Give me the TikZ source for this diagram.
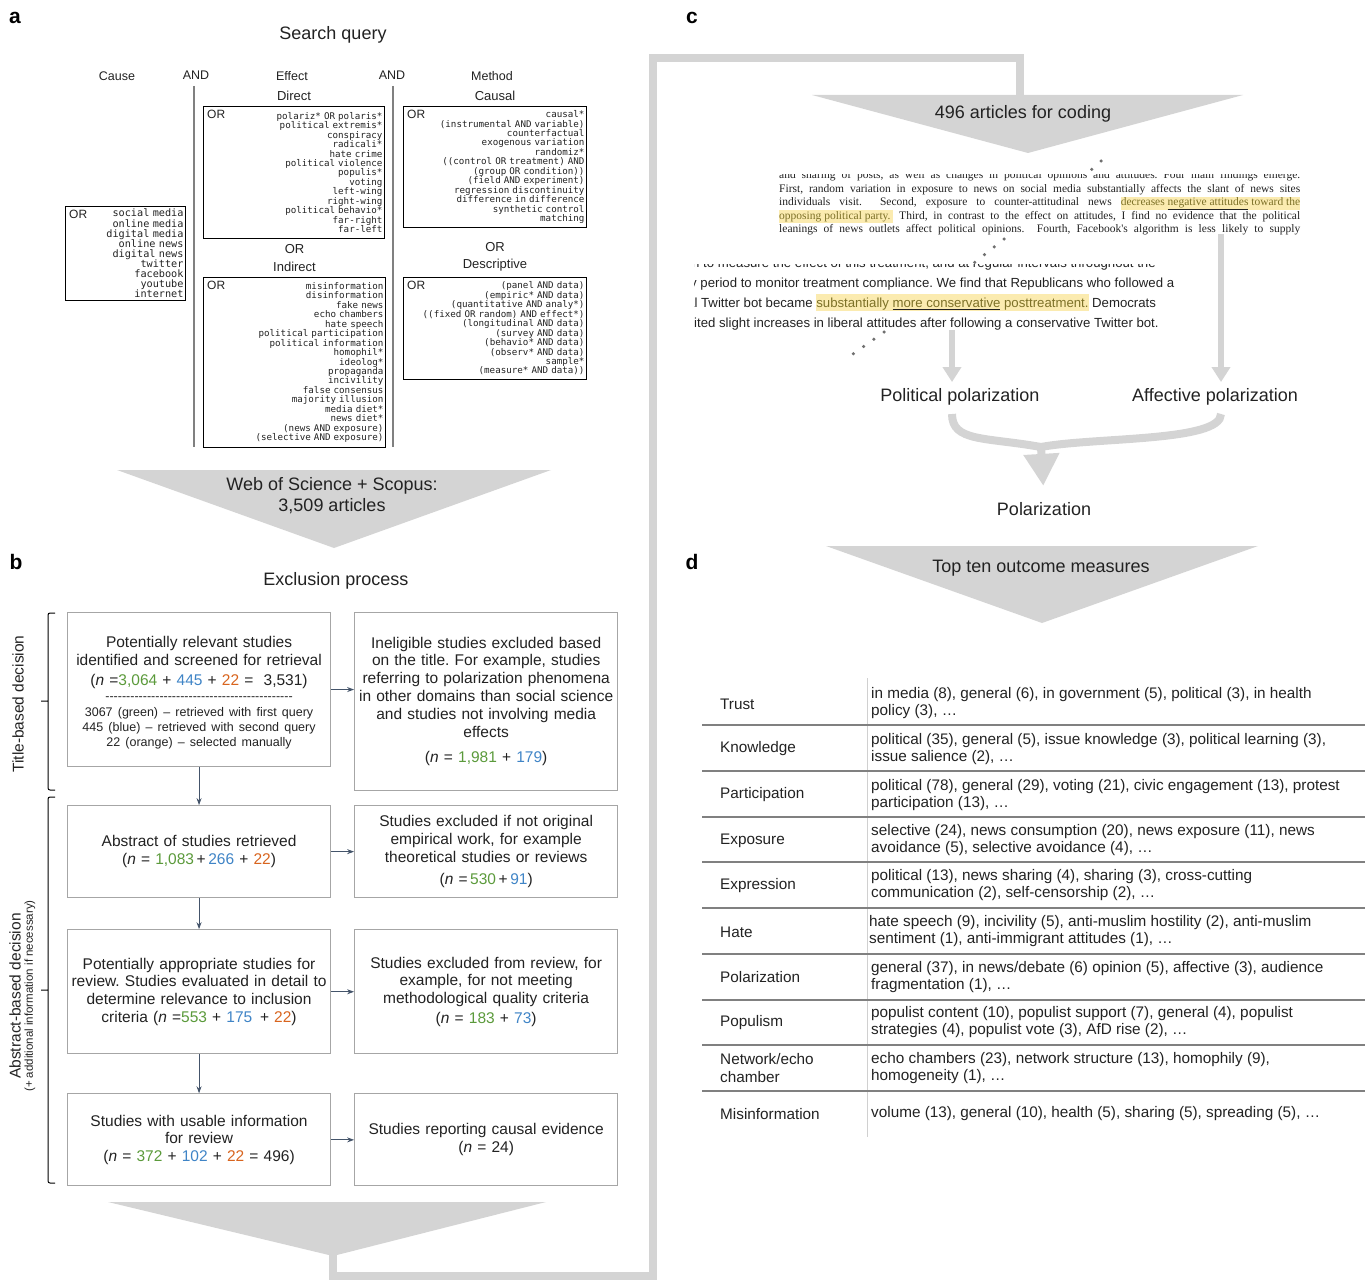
\documentclass[tikz,border=0pt]{standalone}
\usepackage{fontspec}
\setmainfont{Liberation Sans}
\setmonofont{DejaVu Sans Mono}
\newfontfamily\paperfont{Liberation Serif}
\usetikzlibrary{positioning,arrows.meta}

\definecolor{txt}{HTML}{222222}
\definecolor{bandgrey}{HTML}{D4D4D4}
\definecolor{boxgrey}{HTML}{A6A6A6}
\definecolor{arrowblue}{HTML}{44546A}
\definecolor{rulegrey}{HTML}{808080}
\definecolor{sepgrey}{HTML}{D0D0D0}
\definecolor{dotgrey}{HTML}{707070}
\definecolor{ngreen}{HTML}{5B9A3B}
\definecolor{nblue}{HTML}{3F84C6}
\definecolor{norange}{HTML}{D8641E}
\definecolor{hlyellow}{HTML}{FBEBB0}
\definecolor{hltext}{HTML}{7D7128}

\setlength\parindent{0pt}
\newcommand\fsz[2]{\fontsize{#1}{#2}\selectfont}
\newcommand\qfont{\ttfamily\fsz{9.2}{9.45}\setlength\spaceskip{5.52pt}}
\newcommand\qfontbig{\ttfamily\fsz{10.2}{10.1}\setlength\spaceskip{6.12pt}}
\newcommand\cgreen[1]{\textcolor{ngreen}{#1}}
\newcommand\cblue[1]{\textcolor{nblue}{#1}}
\newcommand\corange[1]{\textcolor{norange}{#1}}
\newcommand\hilite[2][12.5pt]{{\setlength\fboxsep{0pt}\colorbox{hlyellow}{\rule[-3.5pt]{0pt}{#1}\textcolor{hltext}{#2}}}}
\newcommand\undl[1]{\textcolor{txt}{\underline{\textcolor{hltext}{#1}}}}
\newcommand\dashrow{\foreach \k in {1,...,45}{-}}
\newcommand\wideline[1]{\makebox[\linewidth]{#1}}

\begin{document}
\frenchspacing
\begin{tikzpicture}[x=1pt,y=-1pt,
    every node/.style={text=txt},
    panel/.style={font=\bfseries\fsz{21}{24},text=black},
    heading/.style={font=\fsz{18}{21},align=center},
    colhead/.style={font=\fsz{12.5}{14}},
    qbox/.style={draw=black,line width=1pt,inner xsep=2pt,inner ysep=0pt,
                 align=right,anchor=north west,font=\qfont},
    orlab/.style={font=\fsz{12}{14},inner sep=0pt,anchor=north west},
    andline/.style={draw=rulegrey,line width=1.8pt},
    band/.style={draw=bandgrey,line width=7.5pt},
    bandarrow/.style={draw=bandgrey,line width=6pt,-{Triangle[width=18pt,length=15pt]}},
    funnel/.style={fill=bandgrey},
    pbox/.style={draw=boxgrey,line width=1.1pt,text width=259pt,inner xsep=2pt,
                 align=center,font=\fsz{15.5}{17.8}},
    flow/.style={draw=arrowblue,line width=1pt,-{Stealth[length=7pt,width=5pt]}},
    brace/.style={draw=black,line width=1pt,rounded corners=2pt},
    serifline/.style={anchor=base west,inner sep=0pt,font=\paperfont\fsz{11.5}{13.6}},
    sansline/.style={anchor=base west,inner sep=0pt,font=\fsz{13.2}{20}},
    dots/.style={draw=dotgrey,line width=3.5pt,line cap=round,dash pattern=on 0pt off 12.5pt},
    rowlab/.style={anchor=west,inner sep=0pt,align=left,font=\fsz{15.3}{17.2}},
    rowrule/.style={draw=rulegrey,line width=1.5pt},
  ]
  \useasboundingbox (0,0) rectangle (1370,1284);

  % grey band that carries the 496 articles from b over to c
  \draw[band] (333,1248) -- (333,1276) -- (653,1276) -- (653,58) -- (1020,58) -- (1020,100);
  \fill[funnel] (117,470) -- (551,470) -- (334,548) -- cycle;
  \fill[funnel] (108,1202) -- (546,1202) -- (333,1256) -- cycle;
  \fill[funnel] (812,95) -- (1243,95) -- (1028,153) -- cycle;
  \fill[funnel] (826,546) -- (1258,546) -- (1042,623) -- cycle;

  \node[panel] (la) at (15,18) {a};
  \node[panel] (lb) at (16,562) {b};
  \node[panel] (lc) at (692,18) {c};
  \node[panel] (ld) at (692,562) {d};

  % a
  \node[heading] (query) at (333,35) {Search query};
  \node[colhead] (cause)  at (117,76) {Cause};
  \node[colhead] (and1)   at (196,75) {AND};
  \node[colhead] (effect) at (292,76) {Effect};
  \node[colhead] (and2)   at (392,75) {AND};
  \node[colhead] (method) at (492,76) {Method};
  \draw[andline] (194,86) -- (194,447);
  \draw[andline] (393,86) -- (393,447);

  \node[qbox,text width=116pt,minimum height=94pt,font=\qfontbig] (media) at (65,206)
    {social media\\online media\\digital media\\online news\\digital news\\twitter\\facebook\\youtube\\internet};
  \node[qbox,text width=177pt,minimum height=132pt] (direct) at (203,106)
    {polariz* OR polaris*\\political extremis*\\conspiracy\\radicali*\\hate crime\\political violence\\populis*\\voting\\left-wing\\right-wing\\political behavio*\\far-right\\far-left};
  \node[qbox,text width=178pt,minimum height=170pt,below=38pt of direct.south west,anchor=north west] (indirect)
    {misinformation\\disinformation\\fake news\\echo chambers\\hate speech\\political participation\\political information\\homophil*\\ideolog*\\propaganda\\incivility\\false consensus\\majority illusion\\media diet*\\news diet*\\(news AND exposure)\\(selective AND exposure)};
  \node[qbox,text width=179pt,minimum height=121pt,right=18pt of direct.north east,anchor=north west] (causal)
    {causal*\\(instrumental AND variable)\\counterfactual\\exogenous variation\\randomiz*\\((control OR treatment) AND\\(group OR condition))\\(field AND experiment)\\regression discontinuity\\difference in difference\\synthetic control\\matching};
  \node[qbox,text width=179pt,minimum height=102pt,below=49pt of causal.south west,anchor=north west] (descr)
    {(panel AND data)\\(empiric* AND data)\\(quantitative AND analy*)\\((fixed OR random) AND effect*)\\(longitudinal AND data)\\(survey AND data)\\(behavio* AND data)\\(observ* AND data)\\sample*\\(measure* AND data))};

  \foreach \b in {media,direct,indirect,causal,descr}
    \node[orlab] (or\b) [below right=4pt and 4pt of \b.north west] {OR};

  \node[colhead,font=\fsz{13}{15}] (directlab) [above=2pt of direct] {Direct};
  \node[colhead,font=\fsz{13}{15}] (causallab) [above=2pt of causal] {Causal};
  \node[colhead,font=\fsz{13}{15}] (indirlab)  [above=2pt of indirect] {Indirect};
  \node[colhead,font=\fsz{13}{15}] (or1) [above=1pt of indirlab] {OR};
  \node[colhead,font=\fsz{13}{15}] (desclab)   [above=2pt of descr] {Descriptive};
  \node[colhead,font=\fsz{13}{15}] (or2) [above=1pt of desclab] {OR};

  \node[heading] (wos) at (332,496) {Web of Science + Scopus:\\3,509 articles};

  % b
  \node[heading] (excl) at (336,581) {Exclusion process};

  \node[pbox,minimum height=154pt,anchor=north west] (b1) at (67,612)
    {{\fsz{15.5}{17.5}\rule{0pt}{18pt}Potentially relevant studies\\identified and screened for retrieval\\[2.5pt]
     (\textit{n} =\cgreen{3,064} + \cblue{445} + \corange{22} = \ 3,531)\par}
     {\fsz{12.5}{15}\leavevmode\dashrow\\[1.5pt]3067 (green) -- retrieved with first query\\445 (blue) -- retrieved with second query\\22 (orange) -- selected manually\par}};
  \node[pbox,minimum height=178pt,right=23pt of b1.north east,anchor=north west] (r1)
    {Ineligible studies excluded based\\on the title. For example, studies\\referring to polarization phenomena\\in other domains than social science\\and studies not involving media\\effects\\[8pt](\textit{n} = \cgreen{1,981} + \cblue{179})};

  \node[pbox,minimum height=92pt,below=38pt of b1] (b2)
    {Abstract of studies retrieved\\(\textit{n} = \cgreen{1,083}\,+\,\cblue{266} + \corange{22})};
  \node[pbox,minimum height=92pt,right=23pt of b2] (r2)
    {Studies excluded if not original\\empirical work, for example\\theoretical studies or reviews\\[5pt](\textit{n} =\,\cgreen{530}\,+\,\cblue{91})};

  \node[pbox,minimum height=124pt,below=31pt of b2] (b3)
    {Potentially appropriate studies for\\\wideline{review. Studies evaluated in detail to}\\determine relevance to inclusion\\criteria (\textit{n} =\cgreen{553} + \cblue{175} \,+ \corange{22})};
  \node[pbox,minimum height=124pt,right=23pt of b3] (r3)
    {Studies excluded from review, for\\example, for not meeting\\methodological quality criteria\\[2pt](\textit{n} = \cgreen{183} + \cblue{73})};

  \node[pbox,minimum height=92pt,below=39pt of b3] (b4)
    {Studies with usable information\\for review\\(\textit{n} = \cgreen{372} + \cblue{102} + \corange{22} = 496)};
  \node[pbox,minimum height=92pt,right=23pt of b4] (r4)
    {Studies reporting causal evidence\\(\textit{n} = 24)};

  \draw[flow] (b1) -- (b2);
  \draw[flow] (b2) -- (b3);
  \draw[flow] (b3) -- (b4);
  \draw[flow] (b1.east) -- (b1.east -| r1.west);
  \draw[flow] (b2) -- (r2);
  \draw[flow] (b3) -- (r3);
  \draw[flow] (b4) -- (r4);

  \draw[brace] (55,613) -- (48,613) -- (48,790) -- (55,790) (48,701) -- (41,701);
  \draw[brace] (55,797) -- (48,797) -- (48,1183) -- (55,1183) (48,990) -- (41,990);
  \node[rotate=90,font=\fsz{15.5}{17}] (titledec) at (18,704) {Title-based decision};
  \node[rotate=90,font=\fsz{15.5}{17}] (absdec) at (15,996) {Abstract-based decision};
  \node[rotate=90,font=\fsz{11.5}{13}] (absnote) at (30,996) {(+ additional information if necessary)};

  % c
  \node[heading] (coding) at (1023,114) {496 articles for coding};

  \begin{scope}
    \clip (776,175) rectangle (1302,234);
    \node[serifline] (s0) at (779,178.6) {\makebox[521pt][s]{and sharing of posts, as well as changes in political opinions and attitudes. Four main findings emerge.}};
    \node[serifline] (s1) at (779,192.2) {\makebox[521pt][s]{First, random variation in exposure to news on social media substantially affects the slant of news sites}};
    \node[serifline] (s2) at (779,205.8) {\makebox[521pt][s]{individuals visit.\ \ Second, exposure to counter-attitudinal news \hilite{decreases \undl{negative attitudes} toward the}}};
    \node[serifline] (s3) at (779,219.4) {\makebox[521pt][s]{\hilite{opposing political party.\ } Third, in contrast to the effect on attitudes, I find no evidence that the political}};
    \node[serifline] (s4) at (779,233.0) {\makebox[521pt][s]{leanings of news outlets affect political opinions.\ \ Fourth, Facebook's algorithm is less likely to supply}};
  \end{scope}

  \begin{scope}
    \clip (694,264) rectangle (1200,330);
    \node[sansline] (t0) at (692,267.5) {n to measure the effect of this treatment, and at regular intervals throughout the};
    \node[sansline] (t1) at (690,287.5) {y period to monitor treatment compliance. We find that Republicans who followed a};
    \node[sansline] (t2) at (687,307.5) {al Twitter bot became \hilite[17pt]{substantially \undl{more conservative} posttreatment.} Democrats};
    \node[sansline] (t3) at (694,327.8) {ited slight increases in liberal attitudes after following a conservative Twitter bot.};
  \end{scope}

  \draw[dots] (1101,161) -- (1090,171);
  \draw[dots] (1004,239) -- (974,263);
  \draw[dots] (884,332) -- (850,356);

  \node[heading] (pp) at (960,397) {Political polarization};
  \node[heading] (ap) at (1215,397) {Affective polarization};
  \node[heading] (pol) at (1044,509) {Polarization};

  \coordinate (srcL) at (952,330);
  \coordinate (srcR) at (1221,234);
  \coordinate (ppfoot) at (952,414);
  \coordinate (apfoot) at (1221,414);
  \coordinate (merge) at (1041,447);
  \draw[bandarrow,shorten >=3pt] (srcL) -- (srcL |- pp.north);
  \draw[bandarrow,shorten >=3pt] (srcR) -- (srcR |- ap.north);
  \draw[band,line width=8pt] (ppfoot) .. controls (952,442) and (985,437) .. (merge);
  \draw[band,line width=8pt] (apfoot) .. controls (1221,442) and (1095,437) .. (merge);
  \draw[bandarrow,line width=8pt,-{Triangle[width=34pt,length=32pt]},shorten >=13pt] (merge) -- (pol.north);

  % d
  \node[heading] (topten) at (1041,568) {Top ten outcome measures};

  \draw[draw=sepgrey,line width=1pt] (867,678) -- (867,1137);
  \foreach \y in {725,771,817,862,908,954,1000,1045,1091}
    \draw[rowrule] (702,\y) -- (1365,\y);

  \node[rowlab] (trust)   at (720,704)  {Trust};
  \node[rowlab] (trustm)  at (871,703)  {in media (8), general (6), in government (5), political (3), in health\\policy (3), …};
  \node[rowlab] (know)    at (720,749)  {Knowledge};
  \node[rowlab] (knowm)   at (871,749)  {political (35), general (5), issue knowledge (3), political learning (3),\\issue salience (2), …};
  \node[rowlab] (part)    at (720,795)  {Participation};
  \node[rowlab] (partm)   at (871,795)  {political (78), general (29), voting (21), civic engagement (13), protest\\participation (13), …};
  \node[rowlab] (expo)    at (720,841)  {Exposure};
  \node[rowlab] (expom)   at (871,840)  {selective (24), news consumption (20), news exposure (11), news\\avoidance (5), selective avoidance (4), …};
  \node[rowlab] (expr)    at (720,886)  {Expression};
  \node[rowlab] (exprm)   at (871,885)  {political (13), news sharing (4), sharing (3), cross-cutting\\communication (2), self-censorship (2), …};
  \node[rowlab] (hate)    at (720,932)  {Hate};
  \node[rowlab] (hatem)   at (869,931)  {hate speech (9), incivility (5), anti-muslim hostility (2), anti-muslim\\sentiment (1), anti-immigrant attitudes (1), …};
  \node[rowlab] (polar)   at (720,977)  {Polarization};
  \node[rowlab] (polarm)  at (871,977)  {general (37), in news/debate (6) opinion (5), affective (3), audience\\fragmentation (1), …};
  \node[rowlab] (popu)    at (720,1023) {Populism};
  \node[rowlab] (popum)   at (871,1022) {populist content (10), populist support (7), general (4), populist\\strategies (4), populist vote (3), AfD rise (2), …};
  \node[rowlab] (netw)    at (720,1068) {Network/echo\\chamber};
  \node[rowlab] (netwm)   at (871,1068) {echo chambers (23), network structure (13), homophily (9),\\homogeneity (1), …};
  \node[rowlab] (misinf)  at (720,1114) {Misinformation};
  \node[rowlab] (misinfm) at (871,1114) {volume (13), general (10), health (5), sharing (5), spreading (5), …};
\end{tikzpicture}
\end{document}
